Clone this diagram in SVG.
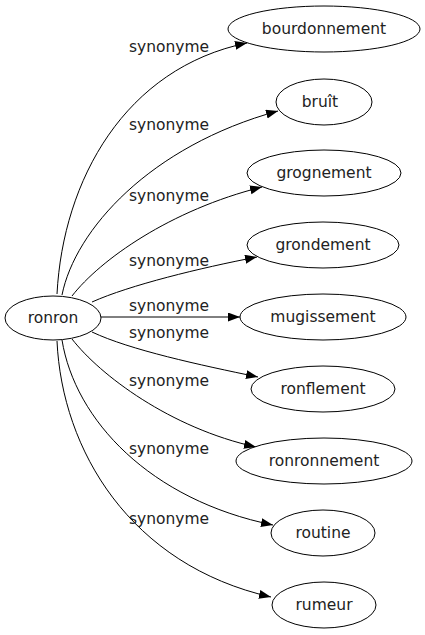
<svg xmlns="http://www.w3.org/2000/svg" width="425" height="635" viewBox="0 0 425 635">
<style>
.n ellipse{fill:#fff;stroke:#000;stroke-width:1}
text{font-family:"DejaVu Sans",sans-serif;font-size:15.5px;fill:#222;text-anchor:middle}
.e path{fill:none;stroke:#000;stroke-width:1;marker-end:url(#ah)}
</style>
<defs>
<marker id="ah" markerUnits="userSpaceOnUse" markerWidth="13" markerHeight="10" refX="12" refY="4.5" orient="auto">
<path d="M0,0 L12,4.5 L0,9 z" fill="#000"/>
</marker>
</defs>
<rect width="425" height="635" fill="#fff"/>
<g id="edges" class="e">
<path d="M57,294 C63,180 125,68 247,43"/>
<path d="M62,295 C75,230 150,146 278,111"/>
<path d="M72,296 C100,260 170,210 262,187"/>
<path d="M92,302 C130,285 200,268 257,257"/>
<path d="M101,317 L240,317"/>
<path d="M92,332 C130,350 200,365 258,377"/>
<path d="M72,339 C100,375 170,428 256,447"/>
<path d="M62,340 C75,420 150,500 273,525"/>
<path d="M57,341 C62,450 130,565 271,597"/>
</g>
<g id="edge-labels">
<text x="169" y="52">synonyme</text>
<text x="169" y="130">synonyme</text>
<text x="169" y="201">synonyme</text>
<text x="169" y="266">synonyme</text>
<text x="169" y="311">synonyme</text>
<text x="169" y="338">synonyme</text>
<text x="169" y="386">synonyme</text>
<text x="169" y="454">synonyme</text>
<text x="169" y="524">synonyme</text>
</g>
<g id="ronron" class="n"><ellipse cx="53" cy="318" rx="48" ry="22"/><text x="53" y="323">ronron</text></g>
<g id="bourdonnement" class="n"><ellipse cx="324" cy="29" rx="96" ry="23"/><text x="324" y="34">bourdonnement</text></g>
<g id="bruit" class="n"><ellipse cx="324" cy="102" rx="48" ry="23"/><text x="320" y="107">bruît</text></g>
<g id="grognement" class="n"><ellipse cx="324" cy="173" rx="77" ry="23"/><text x="324" y="178">grognement</text></g>
<g id="grondement" class="n"><ellipse cx="323" cy="245" rx="76" ry="23"/><text x="323" y="250">grondement</text></g>
<g id="mugissement" class="n"><ellipse cx="323" cy="317" rx="83" ry="23"/><text x="323" y="322">mugissement</text></g>
<g id="ronflement" class="n"><ellipse cx="323" cy="389" rx="72" ry="23"/><text x="323" y="394">ronflement</text></g>
<g id="ronronnement" class="n"><ellipse cx="324" cy="461" rx="88" ry="23"/><text x="324" y="466">ronronnement</text></g>
<g id="routine" class="n"><ellipse cx="323" cy="533" rx="52" ry="23"/><text x="323" y="538">routine</text></g>
<g id="rumeur" class="n"><ellipse cx="324" cy="605" rx="52" ry="23"/><text x="324" y="610">rumeur</text></g>
</svg>
